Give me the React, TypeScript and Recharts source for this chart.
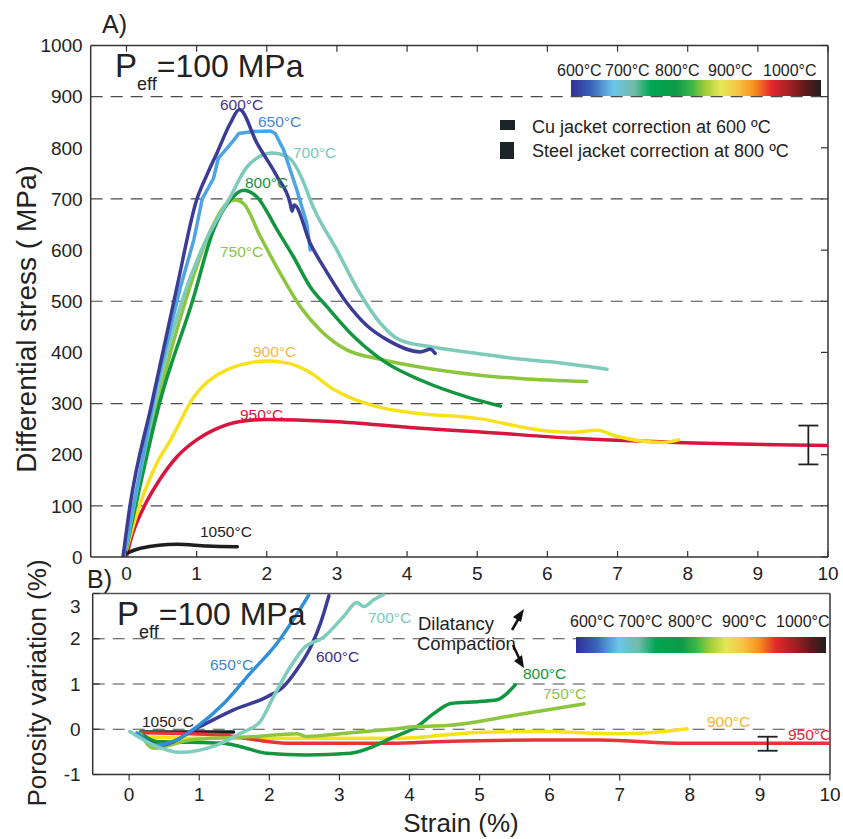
import { ComposedChart, Line, XAxis, YAxis, ReferenceLine, Scatter, ErrorBar } from 'recharts'

const FONT = "'Liberation Sans', Arial, Helvetica, sans-serif"

type P = [number, number]

// strain (%) ticks shared by both panels
const strainTicks = [0, 1, 2, 3, 4, 5, 6, 7, 8, 9, 10]
const stressTicks = [0, 100, 200, 300, 400, 500, 600, 700, 800, 900, 1000]
const stressDashed = [100, 300, 500, 700, 900]
const porosityTicks = [-1, 0, 1, 2, 3]
const porosityDashed = [0, 1, 2]

// A) differential stress (MPa) vs strain (%)
const stress600: P[] = [[-0.05, 0], [0.05, 100], [0.36, 300], [0.72, 528], [1.0, 698], [1.15, 748], [1.29, 790], [1.48, 848], [1.61, 875], [1.86, 809], [2.15, 743], [2.33, 693], [2.36, 676], [2.39, 688], [2.62, 613], [2.86, 556], [3.14, 497], [3.43, 452], [3.71, 425], [4.19, 401], [4.33, 406], [4.4, 398]]
const stress650: P[] = [[-0.04, 0], [0.42, 330], [0.77, 528], [0.96, 620], [1.08, 700], [1.24, 740], [1.31, 780], [1.45, 802], [1.53, 815], [1.6, 828], [1.8, 832], [2.05, 833], [2.12, 828], [2.24, 796], [2.43, 717], [2.57, 652], [2.62, 600]]
const stress700: P[] = [[-0.03, 0], [0.4, 300], [0.79, 500], [1.1, 610], [1.48, 704], [1.72, 763], [2.07, 790], [2.29, 783], [2.57, 717], [2.62, 698], [3.0, 600], [3.3, 522], [3.62, 457], [3.9, 424], [4.38, 410], [5.0, 398], [5.6, 387], [6.0, 382], [6.85, 367]]
const stress750: P[] = [[-0.03, 0], [0.12, 100], [0.44, 300], [0.84, 500], [1.2, 639], [1.43, 691], [1.55, 698], [1.67, 691], [1.91, 626], [2.19, 555], [2.48, 489], [2.76, 444], [3.14, 405], [3.57, 388], [4.28, 369], [5.0, 356], [5.61, 349], [6.56, 343]]
const stress800: P[] = [[-0.03, 0], [0.13, 100], [0.47, 300], [0.94, 500], [1.24, 639], [1.48, 698], [1.67, 717], [1.86, 704], [2.15, 639], [2.38, 587], [2.62, 528], [2.86, 489], [3.24, 431], [3.71, 379], [4.19, 346], [4.85, 313], [5.33, 295]]
const stress900: P[] = [[-0.03, 0], [0.18, 98], [0.44, 185], [0.63, 229], [0.96, 313], [1.43, 366], [2.0, 383], [2.3, 379], [2.6, 362], [2.95, 328], [3.25, 308], [3.57, 294], [4.14, 281], [5.0, 271], [5.9, 248], [6.37, 244], [6.71, 248], [6.99, 236], [7.65, 224], [7.87, 229]]
const stress950: P[] = [[0, 0], [0.06, 33], [0.25, 98], [0.44, 144], [0.72, 196], [1.0, 229], [1.24, 248], [1.62, 265], [2.0, 269], [2.95, 265], [4.14, 252], [5.0, 245], [6.37, 232], [7.84, 224], [10, 218]]
const stress1050: P[] = [[0, 7], [0.2, 17], [0.72, 25], [1.15, 21.5], [1.58, 20]]
const stressErr = [{ x: 9.72, y: 219, e: 38 }]

// B) porosity variation (%) vs strain (%)
const poro600: P[] = [[0.12, -0.1], [0.44, -0.35], [1.01, 0.06], [1.49, 0.43], [1.97, 0.72], [2.2, 0.94], [2.39, 1.31], [2.59, 1.82], [2.73, 2.34], [2.85, 2.95]]
const poro650: P[] = [[0.11, -0.08], [0.4, -0.35], [0.63, -0.27], [0.97, 0.06], [1.35, 0.57], [1.73, 1.24], [2.11, 1.9], [2.4, 2.56], [2.56, 2.96]]
const poro700: P[] = [[0.01, -0.05], [0.39, -0.38], [0.72, -0.51], [1.25, -0.35], [1.59, -0.09], [1.87, 0.17], [2.06, 0.72], [2.3, 1.38], [2.49, 1.79], [2.78, 2.04], [3.06, 2.49], [3.25, 2.8], [3.35, 2.71], [3.49, 2.86], [3.63, 2.98]]
const poro750: P[] = [[0.16, -0.1], [0.35, -0.42], [0.87, -0.24], [1.82, -0.16], [2.39, -0.1], [2.53, -0.16], [3.01, -0.1], [3.73, 0], [4.11, 0.06], [4.58, 0.09], [5.54, 0.32], [6.49, 0.56]]
const poro800: P[] = [[0.16, -0.08], [0.39, -0.27], [1.34, -0.31], [1.58, -0.38], [1.96, -0.53], [2.53, -0.57], [3.16, -0.53], [3.49, -0.38], [3.73, -0.2], [4.11, 0.06], [4.35, 0.35], [4.59, 0.57], [4.97, 0.61], [5.25, 0.65], [5.39, 0.79], [5.51, 0.98]]
const poro900: P[] = [[0.16, -0.16], [0.87, -0.2], [2.0, -0.2], [3.0, -0.2], [3.87, -0.2], [4.97, -0.07], [5.92, -0.05], [6.97, -0.1], [7.3, -0.09], [7.96, 0.01]]
const poro950: P[] = [[0.16, -0.08], [0.87, -0.1], [1.35, -0.13], [1.82, -0.24], [2.3, -0.31], [3.73, -0.31], [4.5, -0.27], [5.77, -0.24], [6.73, -0.24], [7.92, -0.31], [10, -0.31]]
const poro1050: P[] = [[0.16, -0.06], [1.49, -0.06]]
const poroErr = [{ x: 9.11, y: -0.32, e: 0.155 }]

const toPts = (arr: P[]) => arr.map(([x, y]) => ({ x, y }))

const seriesA = [
  { id: '950', color: '#d7153f', pts: stress950 },
  { id: '900', color: '#f6e11c', pts: stress900 },
  { id: '1050', color: '#1e1e1e', pts: stress1050 },
  { id: '750', color: '#8cc63f', pts: stress750 },
  { id: '800', color: '#12963f', pts: stress800 },
  { id: '700', color: '#7ecabc', pts: stress700 },
  { id: '650', color: '#4ea4e0', pts: stress650 },
  { id: '600', color: '#3a3c96', pts: stress600 },
]

const seriesB = [
  { id: '1050', color: '#1e1e1e', pts: poro1050 },
  { id: '900', color: '#f6e11c', pts: poro900 },
  { id: '950', color: '#e6343a', pts: poro950 },
  { id: '800', color: '#12963f', pts: poro800 },
  { id: '750', color: '#8cc63f', pts: poro750 },
  { id: '600', color: '#3a3c96', pts: poro600 },
  { id: '650', color: '#2f8fd8', pts: poro650 },
  { id: '700', color: '#7ecdbd', pts: poro700 },
]

const labelsA = [
  { t: '600°C', x: 220, y: 110, c: '#47338f' },
  { t: '650°C', x: 258, y: 127, c: '#4a86cf' },
  { t: '700°C', x: 293, y: 158, c: '#79c7b8' },
  { t: '800°C', x: 245, y: 188, c: '#16913f' },
  { t: '750°C', x: 220, y: 257, c: '#8cc43f' },
  { t: '900°C', x: 253, y: 357, c: '#f5b940' },
  { t: '950°C', x: 240, y: 420, c: '#d6173f' },
  { t: '1050°C', x: 200, y: 537, c: '#222' },
]

const labelsB = [
  { t: '650°C', x: 210, y: 670, c: '#3a85cf' },
  { t: '600°C', x: 316, y: 662, c: '#3d2b8e' },
  { t: '700°C', x: 368, y: 623, c: '#7ccab9' },
  { t: '1050°C', x: 142, y: 727, c: '#222' },
  { t: '800°C', x: 523, y: 679, c: '#139441' },
  { t: '750°C', x: 543, y: 699, c: '#8dc63f' },
  { t: '900°C', x: 707, y: 727, c: '#f5b540' },
  { t: '950°C', x: 788, y: 740, c: '#e2283a' },
]

const cbarLabels = ['600°C', '700°C', '800°C', '900°C', '1000°C']
const cbarLabelXA = [557, 605, 655, 708, 763]
const cbarLabelXB = [570, 618, 668, 722, 776]

const cbarStops = [
  [0, '#2e3192'], [0.08, '#3a63b8'], [0.17, '#6cc5ea'], [0.25, '#72bba8'], [0.32, '#00a651'],
  [0.42, '#0e9a48'], [0.48, '#39b54a'], [0.54, '#a6ce39'], [0.6, '#e6e659'], [0.67, '#f6c144'],
  [0.73, '#f7941d'], [0.8, '#e4282d'], [0.88, '#9e1f23'], [0.94, '#5a1a1a'], [1, '#231f20'],
]

const AXIS = '#333'
const DASH = '#4a4a4a'

const BottomInTick = (props: any) => {
  const { x, y, payload } = props
  return (
    <g>
      <line x1={x} x2={x} y1={y - 10} y2={y - 16} stroke={AXIS} strokeWidth={1.2} />
      <text x={x} y={y} dy="0.71em" textAnchor="middle" fontSize={19} fill="#222" fontFamily={FONT}>
        {payload.value}
      </text>
    </g>
  )
}

const BottomOutTick = (props: any) => {
  const { x, y, payload } = props
  return (
    <g>
      <line x1={x} x2={x} y1={y - 10} y2={y - 4} stroke={AXIS} strokeWidth={1.2} />
      <text x={x} y={y + 3} dy="0.71em" textAnchor="middle" fontSize={19} fill="#222" fontFamily={FONT}>
        {payload.value}
      </text>
    </g>
  )
}

const LeftTickB = (props: any) => {
  const { x, y, payload } = props
  const ty = Math.max(y, 46.5)
  return (
    <g>
      <line x1={x + 12} x2={x + 19} y1={y} y2={y} stroke={AXIS} strokeWidth={1.2} />
      <text x={x} y={ty} dy="0.355em" textAnchor="end" fontSize={19} fill="#222" fontFamily={FONT}>
        {payload.value}
      </text>
    </g>
  )
}

function PanelA() {
  return (
    <ComposedChart width={843} height={600} margin={{ top: 45.5, right: 15, bottom: 13, left: 30.7 }}>
      <XAxis
        type="number"
        dataKey="x"
        domain={[-0.51, 10]}
        ticks={strainTicks}
        interval={0}
        allowDataOverflow
        height={30}
        tickSize={6}
        tickMargin={4}
        tickLine={false}
        axisLine={{ stroke: AXIS, strokeWidth: 1.5 }}
        tick={<BottomInTick />}
      />
      <YAxis
        type="number"
        dataKey="y"
        domain={[0, 1000]}
        ticks={stressTicks}
        interval={0}
        allowDataOverflow
        width={60}
        tickLine={false}
        axisLine={{ stroke: AXIS, strokeWidth: 1.5 }}
        tick={{ fontSize: 19, fill: '#222', fontFamily: FONT }}
      />
      {stressDashed.map((v) => (
        <ReferenceLine key={'d' + v} y={v} stroke={DASH} strokeWidth={1.2} strokeDasharray="12 8" ifOverflow="visible" />
      ))}
      <ReferenceLine y={1000} stroke={AXIS} strokeWidth={1.5} ifOverflow="visible" />
      <ReferenceLine x={10} stroke={AXIS} strokeWidth={1.5} ifOverflow="visible" />
      {strainTicks.map((t) => (
        <ReferenceLine key={'t' + t} segment={[{ x: t, y: 1000 }, { x: t, y: 988 }]} stroke={AXIS} strokeWidth={1.2} ifOverflow="visible" />
      ))}
      {stressTicks.map((v) => (
        <ReferenceLine key={'r' + v} segment={[{ x: 10, y: v }, { x: 9.9, y: v }]} stroke={AXIS} strokeWidth={1.2} ifOverflow="visible" />
      ))}
      {seriesA.map((s) => (
        <Line
          key={s.id}
          data={toPts(s.pts)}
          dataKey="y"
          type={s.id === '650' ? 'linear' : 'monotone'}
          stroke={s.color}
          strokeWidth={3.5}
          strokeLinejoin="round"
          strokeLinecap="round"
          dot={false}
          isAnimationActive={false}
        />
      ))}
      <Scatter data={stressErr} dataKey="y" shape={() => <g />} isAnimationActive={false}>
        <ErrorBar dataKey="e" direction="y" width={10} stroke="#222" strokeWidth={1.8} isAnimationActive={false} />
      </Scatter>
    </ComposedChart>
  )
}

function PanelB() {
  return (
    <ComposedChart width={843} height={279} margin={{ top: 33.5, right: 13, bottom: 24.5, left: 32.7 }}>
      <XAxis
        type="number"
        dataKey="x"
        domain={[-0.52, 10]}
        ticks={strainTicks}
        interval={0}
        allowDataOverflow
        height={40}
        tickSize={6}
        tickMargin={4}
        tickLine={false}
        axisLine={{ stroke: AXIS, strokeWidth: 1.5 }}
        tick={<BottomOutTick />}
      />
      <YAxis
        type="number"
        dataKey="y"
        domain={[-1, 3]}
        ticks={porosityTicks}
        interval={0}
        allowDataOverflow
        width={60}
        tickSize={6}
        tickMargin={6}
        tickLine={false}
        axisLine={{ stroke: AXIS, strokeWidth: 1.5 }}
        tick={<LeftTickB />}
      />
      {porosityDashed.map((v) => (
        <ReferenceLine key={'d' + v} y={v} stroke={DASH} strokeWidth={1.2} strokeDasharray="12 8" ifOverflow="visible" />
      ))}
      <ReferenceLine y={3} stroke="#555" strokeWidth={1.5} ifOverflow="visible" />
      <ReferenceLine x={10} stroke={AXIS} strokeWidth={1.5} ifOverflow="visible" />
      {seriesB.map((s) => (
        <Line
          key={s.id}
          data={toPts(s.pts)}
          dataKey="y"
          type="monotone"
          stroke={s.color}
          strokeWidth={3.5}
          strokeLinejoin="round"
          strokeLinecap="round"
          dot={false}
          isAnimationActive={false}
        />
      ))}
      <Scatter data={poroErr} dataKey="y" shape={() => <g />} isAnimationActive={false}>
        <ErrorBar dataKey="e" direction="y" width={10} stroke="#222" strokeWidth={1.8} isAnimationActive={false} />
      </Scatter>
    </ComposedChart>
  )
}

function Peff({ x, y }: { x: number; y: number }) {
  return (
    <text x={x} y={y} fontSize={33} fill="#222" fontFamily={FONT}>
      P
      <tspan fontSize={18} dy={13}>eff</tspan>
      <tspan fontSize={32} dy={-13}>=100 MPa</tspan>
    </text>
  )
}

function ColorBar({ x, y, lx, ly }: { x: number; y: number; lx: number[]; ly: number }) {
  return (
    <g>
      {cbarLabels.map((t, i) => (
        <text key={t} x={lx[i]} y={ly} fontSize={16} fill="#222" fontFamily={FONT}>
          {t}
        </text>
      ))}
      <rect x={x} y={y} width={250} height={16} fill="url(#cbar)" />
    </g>
  )
}

function Overlay() {
  return (
    <svg width={843} height={839} style={{ position: 'absolute', left: 0, top: 0, pointerEvents: 'none' }}>
      <defs>
        <linearGradient id="cbar" x1="0" x2="1" y1="0" y2="0">
          {cbarStops.map(([o, c]) => (
            <stop key={String(o)} offset={o as number} stopColor={c as string} />
          ))}
        </linearGradient>
      </defs>
      <text x={102} y={33} fontSize={25} fill="#222" fontFamily={FONT}>A)</text>
      <text x={87} y={588} fontSize={25} fill="#222" fontFamily={FONT}>B)</text>
      <Peff x={115} y={77} />
      <Peff x={117} y={625} />
      <text transform="translate(36,319) rotate(-90)" textAnchor="middle" fontSize={28} fill="#222" fontFamily={FONT}>
        Differential stress ( MPa)
      </text>
      <text transform="translate(46,683) rotate(-90)" textAnchor="middle" fontSize={26} fill="#222" fontFamily={FONT}>
        Porosity variation (%)
      </text>
      <text x={461} y={832} textAnchor="middle" fontSize={26} fill="#222" fontFamily={FONT}>Strain (%)</text>

      <ColorBar x={571} y={80} lx={cbarLabelXA} ly={76} />
      <ColorBar x={576} y={637} lx={cbarLabelXB} ly={627} />

      <rect x={500} y={120} width={15} height={10} fill="#1c2326" />
      <rect x={500} y={142} width={14} height={17} fill="#1c2326" />
      <text x={532} y={133} fontSize={18} fill="#222" fontFamily={FONT}>Cu jacket correction at 600 ºC</text>
      <text x={532} y={157} fontSize={18} fill="#222" fontFamily={FONT}>Steel jacket correction at 800 ºC</text>

      <text x={418} y={630} fontSize={18.5} fill="#222" fontFamily={FONT}>Dilatancy</text>
      <text x={417} y={650} fontSize={18.5} fill="#222" fontFamily={FONT}>Compaction</text>
      <line x1={512} y1={630} x2={519} y2={618} stroke="#111" strokeWidth={2.5} />
      <polygon points="524,609 513,617 521,622" fill="#111" />
      <line x1={513} y1={645} x2={519} y2={658} stroke="#111" strokeWidth={2.5} />
      <polygon points="524,668 514,661 522,655" fill="#111" />

      {labelsA.concat(labelsB).map((l, i) => (
        <text key={i} x={l.x} y={l.y} fontSize={15.5} fill={l.c} fontFamily={FONT}>
          {l.t}
        </text>
      ))}
    </svg>
  )
}

export default function App() {
  return (
    <div style={{ position: 'absolute', left: 0, top: 0, width: 843, height: 839, background: '#fff', fontFamily: FONT }}>
      <div style={{ position: 'absolute', left: 0, top: 0 }}>
        <PanelA />
      </div>
      <div style={{ position: 'absolute', left: 0, top: 560 }}>
        <PanelB />
      </div>
      <Overlay />
    </div>
  )
}
